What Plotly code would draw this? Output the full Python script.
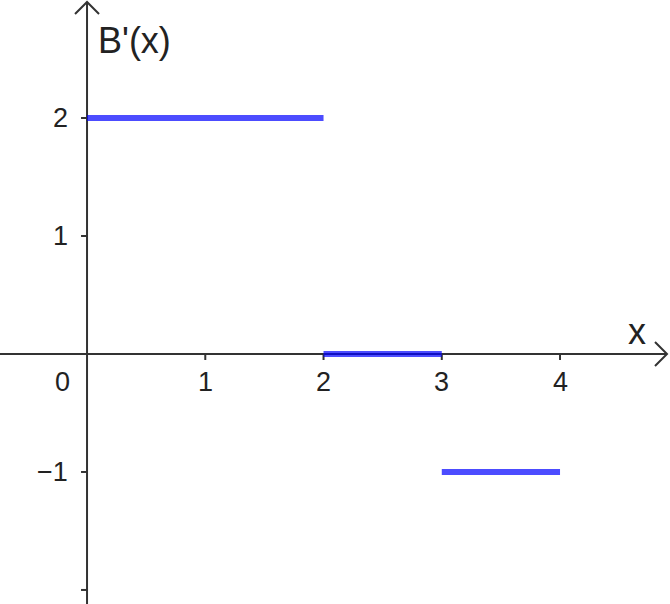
import plotly.graph_objects as go

# data
seg_x_start = [0, 2, 3]
seg_x_end = [2, 3, 4]
seg_y = [2, 0, -1]
x_ticks = [1, 2, 3, 4]
y_ticks = [2, 1, -1, -2]
y_tick_labels = ["2", "1", "\u22121", ""]

X0, X1 = -0.736, 4.930
Y0, Y1 = -2.119, 3.0
W, H = 670, 604
px_x = (X1 - X0) / W
px_y = (Y1 - Y0) / H

fig = go.Figure()
for xs, xe, yv in zip(seg_x_start, seg_x_end, seg_y):
    fig.add_trace(go.Scatter(x=[xs, xe], y=[yv, yv], mode="lines",
                             line=dict(color="rgba(0,0,255,0.7)", width=6),
                             hoverinfo="skip", showlegend=False))

axcol = "#333333"
shapes = []
# x axis
tipx = X1 - 3 * px_x
shapes.append(dict(type="line", xref="x", yref="y", x0=X0, x1=tipx, y0=0, y1=0,
                   line=dict(color=axcol, width=2), layer="below"))
shapes.append(dict(type="path", xref="x", yref="y",
                   path=f"M {tipx-12*px_x},{12*px_y} L {tipx},0 L {tipx-12*px_x},{-12*px_y}",
                   line=dict(color=axcol, width=2), layer="below"))
# y axis
tipy = Y1 - 2 * px_y
shapes.append(dict(type="line", xref="x", yref="y", x0=0, x1=0, y0=Y0, y1=tipy,
                   line=dict(color=axcol, width=2), layer="below"))
shapes.append(dict(type="path", xref="x", yref="y",
                   path=f"M {-12*px_x},{tipy-12*px_y} L 0,{tipy} L {12*px_x},{tipy-12*px_y}",
                   line=dict(color=axcol, width=2), layer="below"))
# ticks
for t in x_ticks:
    shapes.append(dict(type="line", xref="x", yref="y", x0=t, x1=t, y0=0, y1=-6 * px_y,
                       line=dict(color=axcol, width=2), layer="below"))
for t in y_ticks:
    shapes.append(dict(type="line", xref="x", yref="y", x0=-6 * px_x, x1=0, y0=t, y1=t,
                       line=dict(color=axcol, width=2), layer="below"))

font = dict(family="Liberation Sans, Arial, sans-serif", size=27, color="#222222")
ann = []
for t in x_ticks:
    ann.append(dict(x=t, y=-28 * px_y, text=str(t), showarrow=False, font=font,
                    xanchor="center", yanchor="middle"))
ann.append(dict(x=-25 * px_x, y=-28 * px_y, text="0", showarrow=False, font=font,
                xanchor="center", yanchor="middle"))
for t, lab in zip(y_ticks, y_tick_labels):
    if lab:
        ann.append(dict(x=-17 * px_x, y=t, text=lab, showarrow=False, font=font,
                        xanchor="right", yanchor="middle"))
bigfont = dict(family="Liberation Sans, Arial, sans-serif", size=36, color="#222222")
ann.append(dict(x=9 * px_x, y=Y1 - 40 * px_y, text="B'(x)", showarrow=False, font=bigfont,
                xanchor="left", yanchor="middle"))
ann.append(dict(x=X0 + 637 * px_x, y=22 * px_y, text="x", showarrow=False, font=bigfont,
                xanchor="center", yanchor="middle"))

fig.update_layout(
    width=W, height=H, margin=dict(l=0, r=0, t=0, b=0),
    paper_bgcolor="white", plot_bgcolor="white",
    xaxis=dict(range=[X0, X1], visible=False, fixedrange=True),
    yaxis=dict(range=[Y0, Y1], visible=False, fixedrange=True),
    shapes=shapes, annotations=ann, showlegend=False,
)
fig.write_html("out.html", config={"displayModeBar": False},
               post_script="document.body.style.margin='0px';document.body.style.overflow='hidden';")
